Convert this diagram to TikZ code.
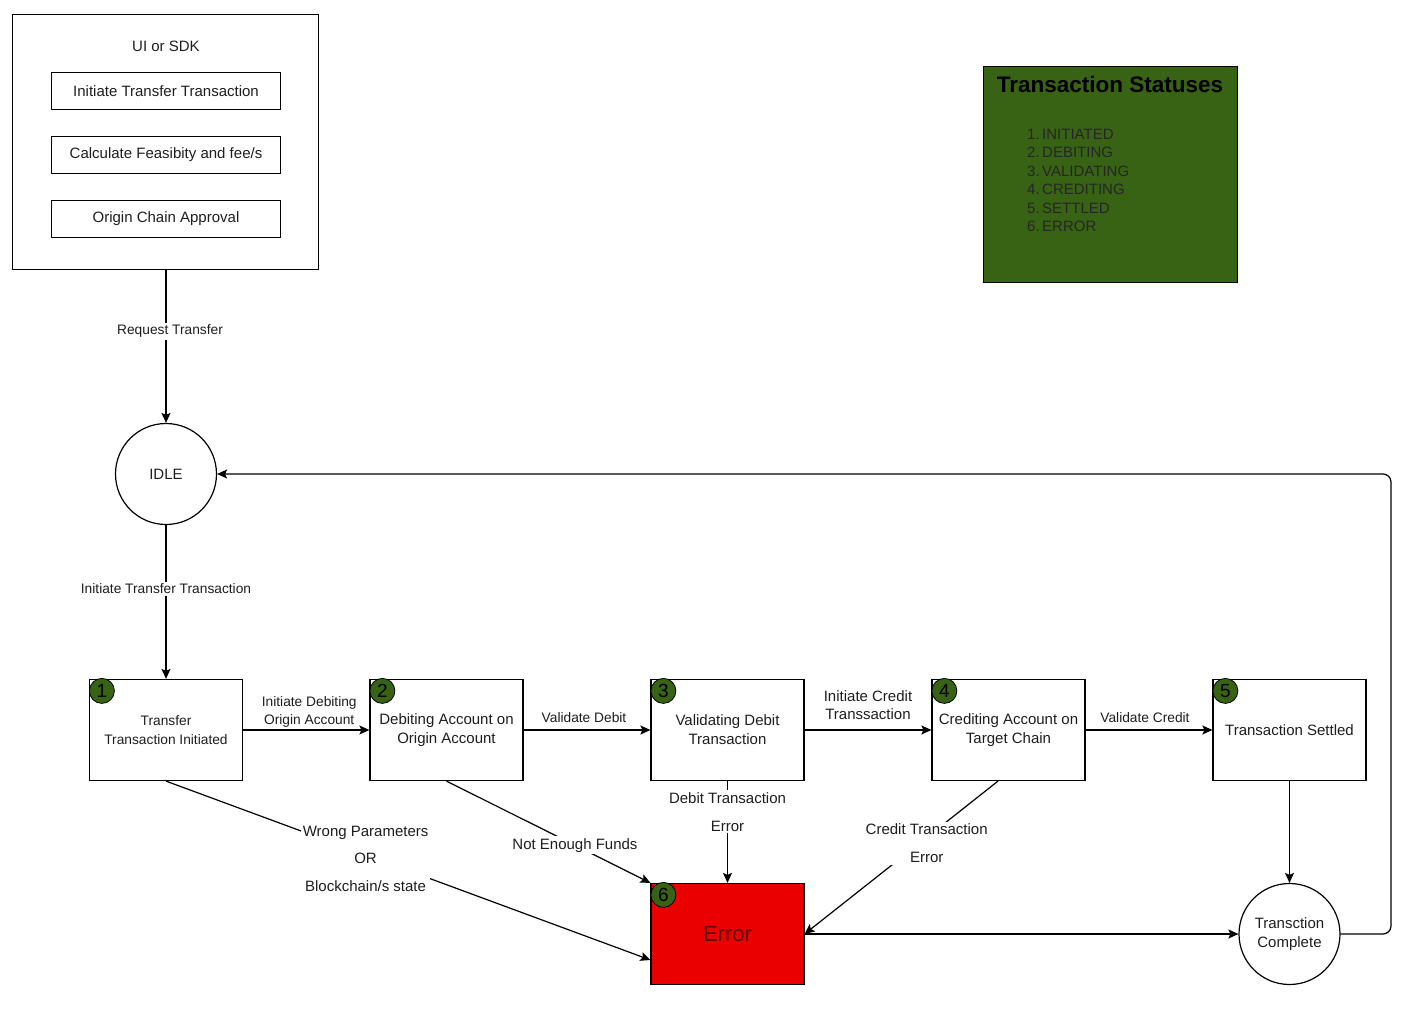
\documentclass[tikz,border=0pt]{standalone}
\usepackage{fontspec}
\setmainfont{Liberation Sans}
\usetikzlibrary{arrows.meta}
\definecolor{stgreen}{RGB}{56,98,20}
\definecolor{errred}{RGB}{234,0,0}
\definecolor{errtext}{RGB}{95,0,0}
\definecolor{txt}{RGB}{30,30,30}
\tikzset{
  lw/.style={line width=1.2pt},
  stepbox/.style={draw, lw, minimum width=153pt, minimum height=101pt, align=center, inner sep=0pt, text=txt, font=\fontsize{15}{19}\selectfont},
  subbox/.style={draw, line width=1pt, minimum width=229pt, minimum height=37pt, inner sep=0pt, text=txt, font=\fontsize{15}{18}\selectfont},
  statecirc/.style={draw, lw, circle, minimum size=101pt, inner sep=0pt, align=center, text=txt, font=\fontsize{15}{19}\selectfont},
  badge/.style={circle, draw, line width=0.8pt, fill=stgreen, minimum size=25pt, inner sep=0pt, font=\fontsize{19}{19}\selectfont},
  conn/.style={lw, -{Stealth[length=10pt,width=9pt,inset=2pt]}},
  elab/.style={fill=white, inner sep=2pt, align=center, text=txt, font=\fontsize{13.75}{17.5}\selectfont},
  elabb/.style={fill=white, inner sep=2pt, align=center, text=txt, font=\fontsize{15}{18}\selectfont},
}
\begin{document}
\begin{tikzpicture}[x=1pt,y=-1pt]
\useasboundingbox (0,0) rectangle (1417,1022);

% UI / SDK container
\node[draw, lw, minimum width=306pt, minimum height=255pt, inner sep=0pt] (ui) at (165.5,142) {};
\node[text=txt, font=\fontsize{15}{18}\selectfont] (uititle) at (166,46) {UI or SDK};
\node[subbox] (s1) at (166,91) {Initiate Transfer Transaction};
\node[subbox] (s2) at (166,155) {Calculate Feasibity and fee/s};
\node[subbox] (s3) at (166,219) {Origin Chain Approval};

% Status legend
\node[draw, line width=1pt, fill=stgreen, minimum width=254pt, minimum height=216pt, inner sep=0pt] (st) at (1110.5,174.5) {};
\node[font=\fontsize{22.5}{26}\selectfont\bfseries] (sttitle) at (1110,84) {Transaction Statuses};
\node[anchor=north west, align=left, inner sep=0pt, font=\fontsize{15}{18.4}\selectfont, text=black!85] (stlist) at (1027,129)
  {1.\,INITIATED\\2.\,DEBITING\\3.\,VALIDATING\\4.\,CREDITING\\5.\,SETTLED\\6.\,ERROR};

% States
\node[statecirc] (idle) at (166,474) {IDLE};
\node[stepbox, font=\fontsize{13.75}{19}\selectfont] (b1) at (166,730) {Transfer\\Transaction Initiated};
\node[stepbox] (b2) at (446.5,730) {Debiting Account on\\Origin Account};
\node[stepbox] (b3) at (727.5,730) {Validating Debit\\Transaction};
\node[stepbox] (b4) at (1008.5,730) {Crediting Account on\\Target Chain};
\node[stepbox] (b5) at (1289.5,730) {Transaction Settled};
\node[stepbox, fill=errred, text=errtext, font=\fontsize{22}{26}\selectfont] (err) at (727.5,934) {Error};
\node[statecirc] (done) at (1289.5,934) {Transction\\Complete};

% Badges
\node[badge] (n1) at ([shift={(13,12)}]b1.north west) {1};
\node[badge] (n2) at ([shift={(13,12)}]b2.north west) {2};
\node[badge] (n3) at ([shift={(13,12)}]b3.north west) {3};
\node[badge] (n4) at ([shift={(13,12)}]b4.north west) {4};
\node[badge] (n5) at ([shift={(13,12)}]b5.north west) {5};
\node[badge] (n6) at ([shift={(13,12)}]err.north west) {6};

% Main flow
\draw[conn] (idle.north |- ui.south) -- node[elab, pos=0.4, xshift=4pt] {Request Transfer} (idle.north);
\draw[conn] (idle.south) -- node[elab, pos=0.416] {Initiate Transfer Transaction} (b1.north);
\draw[conn] (b1.east) -- node[elab, fill=none, pos=0.5, yshift=18pt, xshift=3pt] {Initiate Debiting\\Origin Account} (b2.west);
\draw[conn] (b2.east) -- node[elab, fill=none, pos=0.5, yshift=12pt, xshift=-3pt] {Validate Debit} (b3.west);
\draw[conn] (b3.east) -- node[elabb, fill=none, pos=0.5, yshift=25pt] {Initiate Credit\\Transsaction} (b4.west);
\draw[conn] (b4.east) -- node[elab, fill=none, pos=0.5, yshift=12pt, xshift=-4pt] {Validate Credit} (b5.west);
\draw[conn] (b5.south) -- (done.north);
\draw[conn] (err.east) -- (done.west);
\coordinate (loop) at (1391,474);
\draw[conn, rounded corners=8pt] (done.east) -| (loop) -- (idle.east);

% Error flows
\draw[conn] (b1.south) -- node[elabb, pos=0.412, yshift=-4pt, font=\fontsize{15}{27.5}\selectfont] {Wrong Parameters\\OR\\Blockchain/s state} ([yshift=-26pt]err.west);
\draw[conn] (b2.south) -- node[elabb, pos=0.63] {Not Enough Funds} (err.north west);
\draw[conn] (b3.south) -- node[elabb, pos=0.30, font=\fontsize{15}{28}\selectfont] {Debit Transaction\\Error} (err.north);
\draw[conn] ([xshift=-10.5pt]b4.south) -- node[elabb, pos=0.405, xshift=7pt, font=\fontsize{15}{28}\selectfont] {Credit Transaction\\Error} (err.east);
\end{tikzpicture}
\end{document}
